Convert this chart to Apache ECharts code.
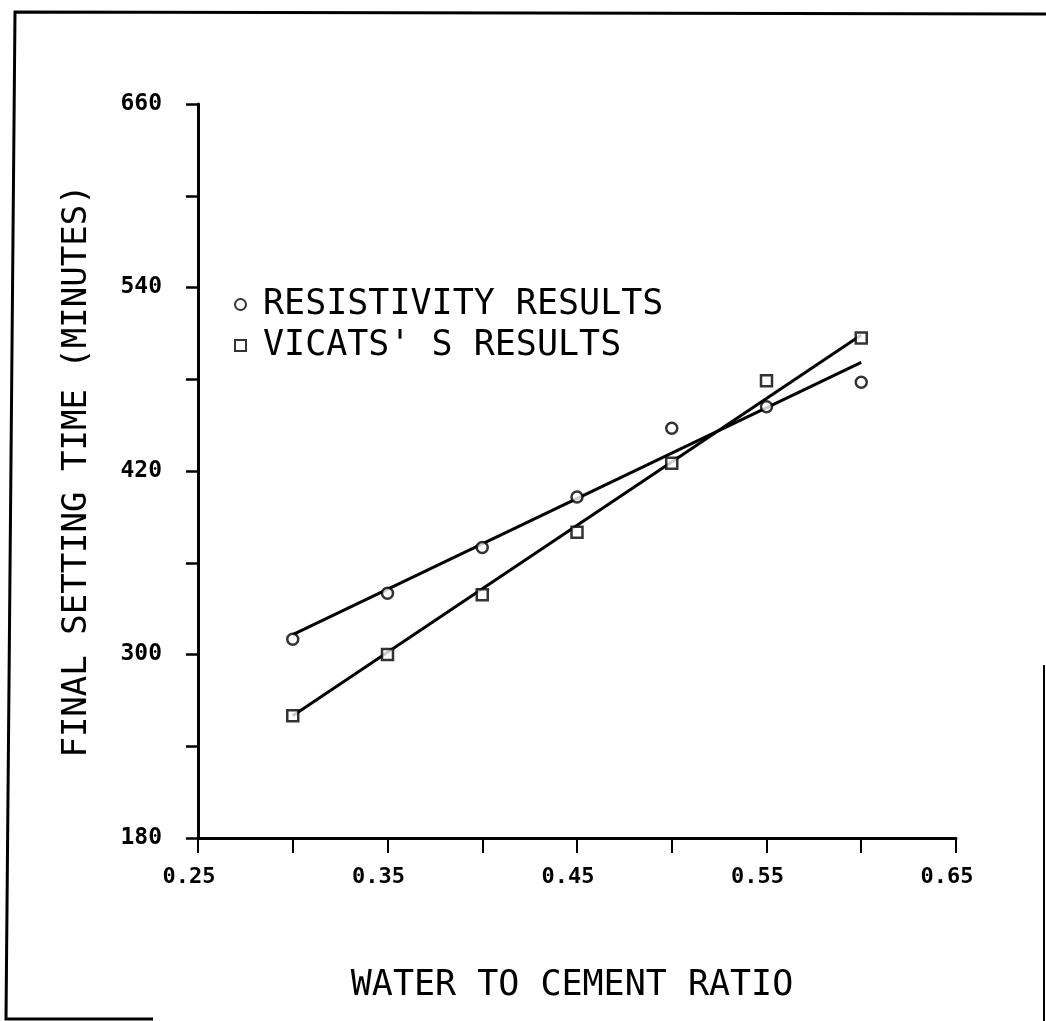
<!DOCTYPE html>
<html>
<head>
<meta charset="utf-8">
<script src="https://cdn.jsdelivr.net/npm/echarts@6/dist/echarts.min.js"></script>
<style>
html,body{margin:0;padding:0;background:#fff;}
#chart{width:1046px;height:1021px;}
</style>
</head>
<body>
<div id="chart"></div>
<script>
// Water to cement ratio
const ratios = [0.30, 0.35, 0.40, 0.45, 0.50, 0.55, 0.60];
// Final setting time (minutes)
const resistivity = [310, 340, 370, 403, 448, 462, 478];
const vicat = [260, 300, 339, 380, 425, 479, 507];
// Fitted straight lines (end points)
const fitX = [0.30, 0.60];
const fitResistivity = [313, 491];
const fitVicat = [260, 509];
const seriesNames = ['RESISTIVITY RESULTS', "VICATS' S RESULTS"];
const xLabelTicks = [0.25, 0.35, 0.45, 0.55, 0.65];
const yLabelTicks = [180, 300, 420, 540, 660];

const pairs = (xs, ys) => xs.map((x, i) => [x, ys[i]]);
const mono = '"DejaVu Sans Mono", "Liberation Mono", monospace';

const chart = echarts.init(document.getElementById('chart'), null, {renderer: 'canvas'});
chart.setOption({
  backgroundColor: '#fff',
  animation: false,
  grid: {left: 198, right: 90, top: 104, bottom: 183, containLabel: false},
  legend: {
    orient: 'vertical',
    left: 229,
    top: 282,
    itemWidth: 11,
    itemHeight: 11,
    itemGap: 6,
    data: seriesNames,
    textStyle: {fontFamily: mono, fontSize: 35, lineHeight: 34, color: '#000', padding: [0, 0, 0, 12]}
  },
  xAxis: {
    type: 'value',
    min: 0.25,
    max: 0.65,
    interval: 0.05,
    name: 'WATER TO CEMENT RATIO',
    nameLocation: 'middle',
    nameGap: 130,
    nameTextStyle: {fontFamily: mono, fontSize: 35, color: '#000', padding: [0, 10, 0, 0]},
    axisLine: {onZero: false, lineStyle: {color: '#000', width: 3}},
    axisTick: {inside: false, length: 15, lineStyle: {color: '#000', width: 2}},
    axisLabel: {
      margin: 28,
      fontFamily: mono,
      fontSize: 22,
      fontWeight: 'bold',
      color: '#000',
      padding: [0, 18, 0, 0],
      formatter: function (v) {
        const hit = xLabelTicks.find(t => Math.abs(t - v) < 1e-6);
        return hit !== undefined ? hit.toFixed(2) : '';
      }
    },
    splitLine: {show: false}
  },
  yAxis: {
    type: 'value',
    min: 180,
    max: 660,
    interval: 60,
    name: 'FINAL SETTING TIME (MINUTES)',
    nameLocation: 'middle',
    nameGap: 104,
    nameRotate: 90,
    nameTextStyle: {fontFamily: mono, fontSize: 34, color: '#000'},
    axisLine: {onZero: false, lineStyle: {color: '#000', width: 3}},
    axisTick: {inside: false, length: 12, lineStyle: {color: '#000', width: 2.5}},
    axisLabel: {
      margin: 36,
      fontFamily: mono,
      fontSize: 23,
      fontWeight: 'bold',
      color: '#000',
      formatter: function (v) {
        return yLabelTicks.indexOf(v) >= 0 ? String(v) : '';
      }
    },
    splitLine: {show: false}
  },
  series: [
    {
      name: seriesNames[0],
      type: 'scatter',
      symbol: 'circle',
      symbolSize: 11,
      itemStyle: {color: '#fff', borderColor: '#000', borderWidth: 2.5},
      data: pairs(ratios, resistivity),
      z: 3
    },
    {
      name: seriesNames[1],
      type: 'scatter',
      symbol: 'rect',
      symbolSize: 11,
      itemStyle: {color: '#fff', borderColor: '#000', borderWidth: 2.5},
      data: pairs(ratios, vicat),
      z: 3
    },
    {
      name: 'fitR',
      type: 'line',
      showSymbol: false,
      symbol: 'none',
      lineStyle: {color: '#000', width: 3},
      data: pairs(fitX, fitResistivity),
      z: 2
    },
    {
      name: 'fitV',
      type: 'line',
      showSymbol: false,
      symbol: 'none',
      lineStyle: {color: '#000', width: 3},
      data: pairs(fitX, fitVicat),
      z: 2
    }
  ],
  graphic: [
    {type: 'polyline', shape: {points: [[1046, 14], [15, 12], [6, 1019], [153, 1019]]}, style: {stroke: '#000', lineWidth: 3, fill: null}},
    {type: 'line', shape: {x1: 1044, y1: 665, x2: 1044, y2: 1021}, style: {stroke: '#000', lineWidth: 2}}
  ]
});
</script>
</body>
</html>
